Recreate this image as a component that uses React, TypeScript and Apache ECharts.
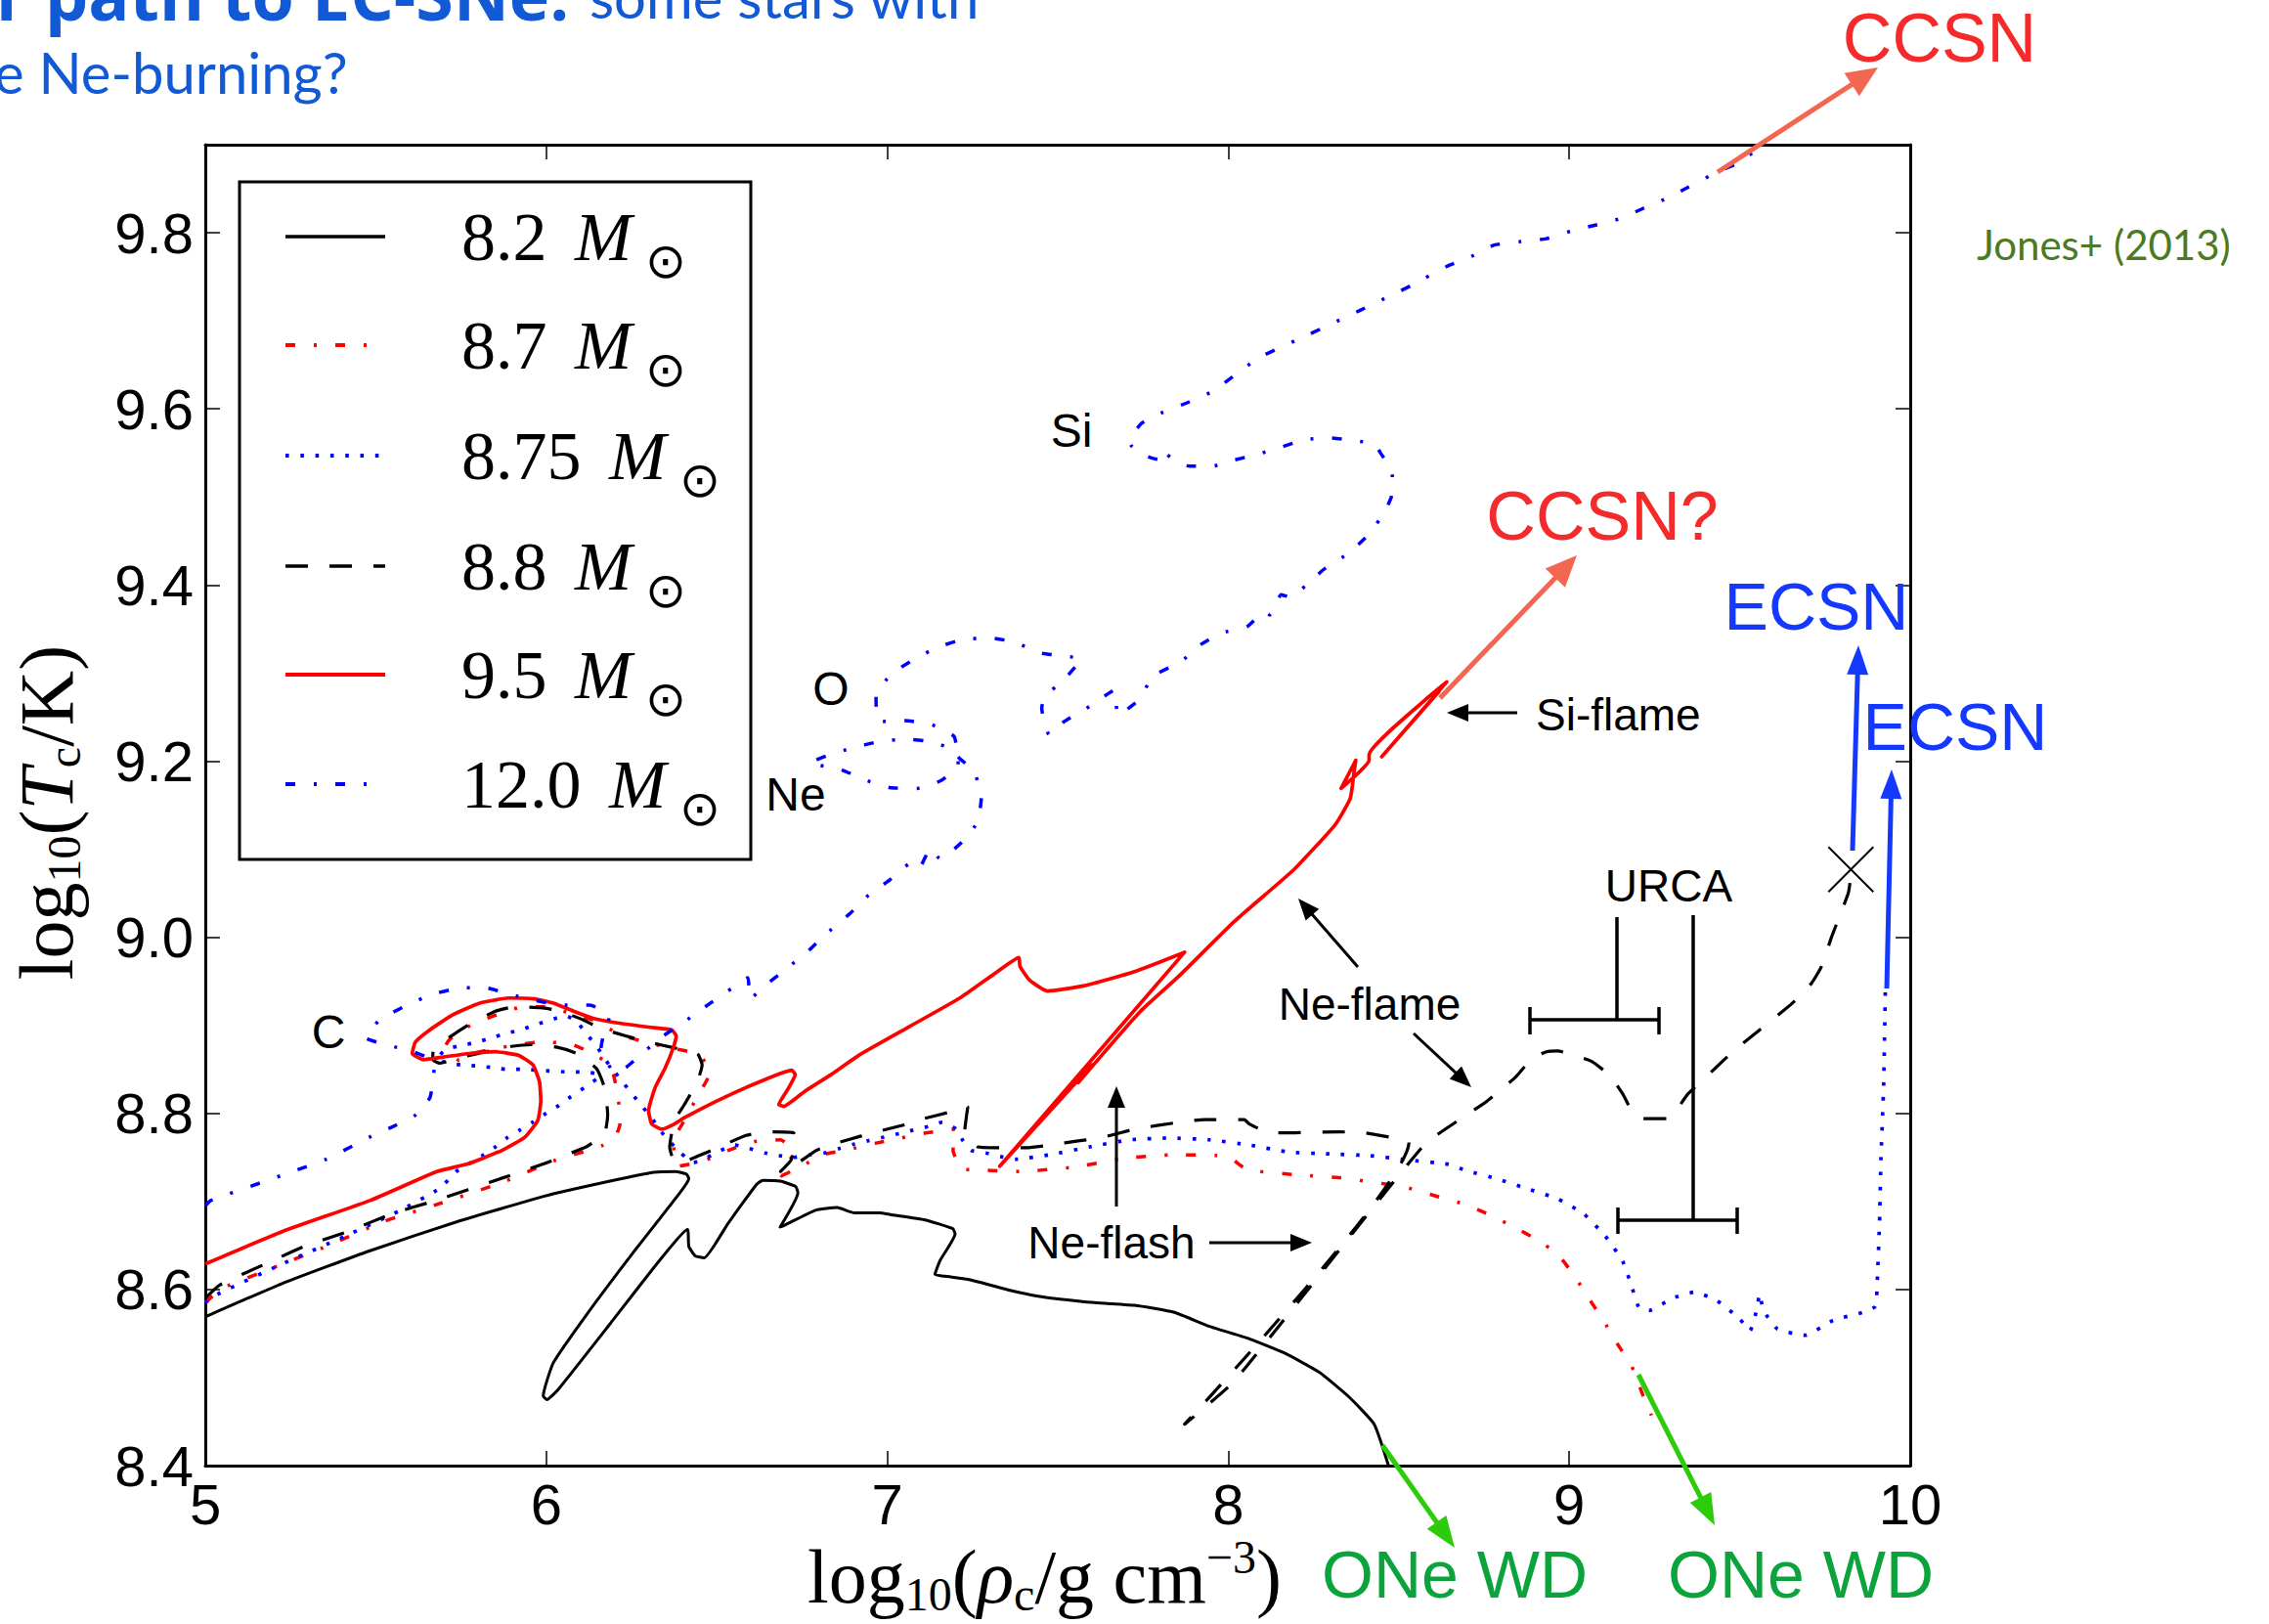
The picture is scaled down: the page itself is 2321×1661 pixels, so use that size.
import React, { useEffect, useRef } from 'react';
import * as echarts from 'echarts';

// ---------- data (log10 rho_c, log10 T_c) ----------
const track82: number[][] = [
  [5.0, 8.569], [5.227, 8.607], [5.483, 8.644], [5.739, 8.677], [5.995, 8.706], [6.187, 8.723], [6.315, 8.733], [6.379, 8.734],
  [6.411, 8.731], [6.418, 8.726], [6.392, 8.71], [6.251, 8.64], [6.123, 8.574], [6.021, 8.517], [5.991, 8.479], [6.002, 8.475],
  [6.034, 8.486], [6.187, 8.561], [6.328, 8.631], [6.414, 8.668], [6.418, 8.649], [6.437, 8.638], [6.463, 8.636], [6.533, 8.675],
  [6.616, 8.719], [6.635, 8.724], [6.686, 8.723], [6.731, 8.717], [6.738, 8.71], [6.686, 8.671], [6.699, 8.673], [6.789, 8.69],
  [6.853, 8.693], [6.904, 8.687], [6.978, 8.687], [7.009, 8.685], [7.111, 8.679], [7.192, 8.669], [7.199, 8.663], [7.155, 8.633],
  [7.14, 8.617], [7.17, 8.615], [7.243, 8.611], [7.36, 8.599], [7.447, 8.592], [7.579, 8.586], [7.725, 8.582], [7.842, 8.574],
  [7.945, 8.558], [8.062, 8.544], [8.164, 8.528], [8.267, 8.506], [8.354, 8.478], [8.428, 8.447], [8.47, 8.4]
];

const track87: number[][] = [
  [5.0, 8.585], [5.048, 8.601], [5.227, 8.629], [5.355, 8.649], [5.522, 8.677], [5.675, 8.696], [5.867, 8.721], [6.021, 8.746],
  [6.162, 8.763], [6.204, 8.775], [6.216, 8.788], [6.212, 8.814], [6.197, 8.844], [6.176, 8.858], [6.137, 8.868], [6.07, 8.879],
  [5.984, 8.881], [5.917, 8.878], [5.841, 8.873], [5.774, 8.867], [5.745, 8.86], [5.705, 8.877], [5.717, 8.884], [5.774, 8.899],
  [5.841, 8.91], [5.918, 8.92], [5.994, 8.921], [6.07, 8.914], [6.137, 8.906], [6.219, 8.889], [6.29, 8.881], [6.367, 8.874],
  [6.448, 8.867], [6.481, 8.847], [6.443, 8.819], [6.405, 8.792], [6.372, 8.768], [6.386, 8.74], [6.462, 8.746], [6.534, 8.758],
  [6.61, 8.768], [6.687, 8.77], [6.725, 8.757], [6.69, 8.729], [6.744, 8.739], [6.811, 8.753], [6.888, 8.759], [6.964, 8.766],
  [7.04, 8.772], [7.117, 8.778], [7.198, 8.782], [7.193, 8.758], [7.217, 8.737], [7.246, 8.736], [7.308, 8.735], [7.389, 8.734],
  [7.55, 8.739], [7.696, 8.749], [7.842, 8.753], [7.967, 8.752], [8.011, 8.748], [8.047, 8.738], [8.091, 8.734], [8.208, 8.73],
  [8.325, 8.727], [8.457, 8.72], [8.53, 8.715], [8.618, 8.705], [8.691, 8.697], [8.771, 8.684], [8.837, 8.671], [8.904, 8.657],
  [8.966, 8.64], [9.014, 8.616], [9.057, 8.59], [9.1, 8.565], [9.14, 8.539], [9.183, 8.513], [9.215, 8.481], [9.241, 8.457]
];

const track875: number[][] = [
  [5.0, 8.585], [5.022, 8.592], [5.214, 8.627], [5.407, 8.66], [5.573, 8.69], [5.688, 8.715], [5.736, 8.734], [5.774, 8.743],
  [5.817, 8.753], [5.851, 8.762], [5.884, 8.772], [5.922, 8.781], [5.96, 8.79], [5.999, 8.8], [6.037, 8.809], [6.072, 8.819],
  [6.111, 8.829], [6.147, 8.839], [6.156, 8.844], [6.109, 8.847], [6.066, 8.847], [6.018, 8.848], [5.975, 8.849], [5.927, 8.85],
  [5.884, 8.85], [5.841, 8.852], [5.793, 8.854], [5.75, 8.855], [5.712, 8.857], [5.679, 8.862], [5.707, 8.873], [5.75, 8.877],
  [5.798, 8.881], [5.841, 8.886], [5.884, 8.891], [5.927, 8.895], [5.97, 8.901], [6.013, 8.906], [6.056, 8.911], [6.09, 8.904],
  [6.118, 8.89], [6.147, 8.877], [6.171, 8.862], [6.223, 8.836], [6.252, 8.822], [6.281, 8.808], [6.309, 8.795], [6.333, 8.781],
  [6.362, 8.768], [6.395, 8.755], [6.432, 8.744], [6.472, 8.75], [6.512, 8.758], [6.553, 8.764], [6.596, 8.76], [6.642, 8.755],
  [6.682, 8.752], [6.727, 8.75], [6.773, 8.753], [6.816, 8.755], [6.859, 8.76], [6.902, 8.765], [6.945, 8.769], [6.99, 8.773],
  [7.034, 8.777], [7.076, 8.781], [7.12, 8.785], [7.162, 8.79], [7.203, 8.782], [7.222, 8.769], [7.246, 8.758], [7.289, 8.755],
  [7.332, 8.751], [7.378, 8.748], [7.477, 8.753], [7.594, 8.762], [7.711, 8.77], [7.828, 8.772], [7.945, 8.77], [8.062, 8.764],
  [8.179, 8.756], [8.296, 8.754], [8.413, 8.752], [8.53, 8.747], [8.647, 8.742], [8.698, 8.735], [8.794, 8.725], [8.88, 8.714],
  [8.966, 8.703], [9.042, 8.686], [9.105, 8.661], [9.157, 8.632], [9.186, 8.6], [9.205, 8.579], [9.234, 8.576], [9.302, 8.59],
  [9.367, 8.597], [9.431, 8.588], [9.499, 8.567], [9.53, 8.553], [9.551, 8.579], [9.558, 8.595], [9.57, 8.576], [9.611, 8.555],
  [9.692, 8.548], [9.774, 8.565], [9.86, 8.574], [9.898, 8.581], [9.904, 8.616], [9.91, 8.677], [9.914, 8.747], [9.922, 8.831],
  [9.927, 8.939]
];

const track88: number[][] = [
  [5.0, 8.59], [5.042, 8.605], [5.176, 8.629], [5.291, 8.649], [5.419, 8.666], [5.547, 8.686], [5.675, 8.701], [5.867, 8.726],
  [5.995, 8.743], [6.098, 8.759], [6.118, 8.762], [6.171, 8.777], [6.18, 8.799], [6.171, 8.829], [6.147, 8.851], [6.089, 8.868],
  [6.032, 8.875], [5.956, 8.878], [5.898, 8.876], [5.822, 8.87], [5.755, 8.864], [5.688, 8.857], [5.667, 8.861], [5.669, 8.871],
  [5.707, 8.884], [5.774, 8.901], [5.851, 8.916], [5.908, 8.921], [5.984, 8.92], [6.042, 8.916], [6.109, 8.906], [6.156, 8.897],
  [6.233, 8.888], [6.3, 8.881], [6.367, 8.875], [6.443, 8.868], [6.457, 8.855], [6.443, 8.836], [6.405, 8.81], [6.376, 8.792],
  [6.362, 8.762], [6.371, 8.749], [6.391, 8.744], [6.467, 8.755], [6.52, 8.764], [6.586, 8.775], [6.649, 8.779], [6.725, 8.778],
  [6.732, 8.768], [6.718, 8.747], [6.687, 8.734], [6.739, 8.744], [6.792, 8.758], [6.849, 8.766], [6.921, 8.774], [6.978, 8.78],
  [7.05, 8.787], [7.107, 8.794], [7.179, 8.801], [7.236, 8.807], [7.227, 8.779], [7.265, 8.762], [7.337, 8.761], [7.408, 8.761],
  [7.477, 8.764], [7.565, 8.769], [7.623, 8.772], [7.725, 8.782], [7.857, 8.79], [7.93, 8.793], [8.047, 8.793], [8.062, 8.788],
  [8.12, 8.778], [8.194, 8.778], [8.325, 8.779], [8.398, 8.778], [8.472, 8.773], [8.53, 8.767], [7.872, 8.447], [8.018, 8.496],
  [8.574, 8.764], [8.706, 8.8], [8.756, 8.813], [8.842, 8.841], [8.89, 8.862], [8.933, 8.87], [8.966, 8.871], [9.014, 8.866],
  [9.066, 8.859], [9.119, 8.843], [9.157, 8.822], [9.186, 8.801], [9.214, 8.794], [9.248, 8.794], [9.291, 8.794], [9.348, 8.822],
  [9.425, 8.85], [9.482, 8.871], [9.559, 8.895], [9.654, 8.925], [9.711, 8.948], [9.74, 8.967], [9.769, 9.0], [9.797, 9.028],
  [9.819, 9.051], [9.826, 9.07]
];

const track95: number[][] = [
  [5.0, 8.629], [5.227, 8.666], [5.483, 8.701], [5.679, 8.734], [5.774, 8.743], [5.87, 8.758], [5.937, 8.773], [5.975, 8.792],
  [5.984, 8.814], [5.98, 8.836], [5.961, 8.855], [5.918, 8.866], [5.851, 8.87], [5.774, 8.868], [5.698, 8.864], [5.64, 8.861],
  [5.607, 8.868], [5.616, 8.881], [5.659, 8.895], [5.726, 8.912], [5.803, 8.925], [5.889, 8.931], [5.965, 8.93], [6.023, 8.925],
  [6.08, 8.916], [6.137, 8.908], [6.204, 8.903], [6.3, 8.898], [6.367, 8.895], [6.381, 8.888], [6.371, 8.873], [6.348, 8.851],
  [6.319, 8.829], [6.3, 8.803], [6.309, 8.788], [6.338, 8.782], [6.376, 8.788], [6.405, 8.795], [6.5, 8.814], [6.596, 8.831],
  [6.72, 8.849], [6.73, 8.844], [6.711, 8.829], [6.682, 8.81], [6.696, 8.808], [6.758, 8.825], [6.835, 8.844], [6.921, 8.867],
  [7.067, 8.899], [7.213, 8.931], [7.316, 8.959], [7.386, 8.977], [7.389, 8.967], [7.418, 8.951], [7.469, 8.939], [7.579, 8.945],
  [7.725, 8.961], [7.872, 8.983], [7.33, 8.74], [7.6, 8.855], [7.56, 8.835], [7.74, 8.915], [7.853, 8.955], [8.018, 9.018],
  [8.193, 9.077], [8.314, 9.128], [8.358, 9.158], [8.369, 9.188], [8.374, 9.201], [8.331, 9.169], [8.413, 9.201], [8.413, 9.207],
  [8.588, 9.273], [8.641, 9.29], [8.45, 9.205], [8.62, 9.28]
];

const track120: number[][] = [
  [5.0, 8.695], [5.016, 8.701], [5.227, 8.73], [5.355, 8.748], [5.487, 8.774], [5.545, 8.784], [5.616, 8.798], [5.659, 8.818],
  [5.671, 8.851], [5.659, 8.862], [5.602, 8.871], [5.54, 8.877], [5.471, 8.886], [5.511, 8.906], [5.592, 8.923], [5.664, 8.935],
  [5.741, 8.942], [5.817, 8.943], [5.894, 8.935], [5.97, 8.928], [6.047, 8.923], [6.128, 8.923], [6.185, 8.91], [6.166, 8.886],
  [6.161, 8.875], [6.199, 8.847], [6.233, 8.852], [6.281, 8.868], [6.34, 8.887], [6.405, 8.904], [6.462, 8.92], [6.533, 8.939],
  [6.591, 8.954], [6.597, 8.93], [6.648, 8.947], [6.7, 8.963], [6.77, 8.985], [6.815, 9.002], [6.891, 9.027], [6.94, 9.046],
  [7.007, 9.065], [7.069, 9.084], [7.093, 9.078], [7.126, 9.101], [7.155, 9.089], [7.219, 9.108], [7.265, 9.131], [7.276, 9.159],
  [7.254, 9.189], [7.212, 9.203], [7.193, 9.213], [7.129, 9.222], [7.05, 9.225], [6.974, 9.222], [6.897, 9.215], [6.822, 9.206],
  [6.773, 9.198], [6.861, 9.191], [6.932, 9.179], [7.007, 9.17], [7.088, 9.169], [7.158, 9.178], [7.208, 9.196], [7.196, 9.228],
  [7.126, 9.242], [7.05, 9.246], [6.98, 9.245], [6.969, 9.251], [6.967, 9.273], [7.009, 9.298], [7.076, 9.315], [7.146, 9.329],
  [7.219, 9.338], [7.298, 9.34], [7.375, 9.335], [7.447, 9.323], [7.524, 9.319], [7.568, 9.316], [7.519, 9.293], [7.461, 9.273],
  [7.453, 9.26], [7.475, 9.23], [7.519, 9.245], [7.601, 9.264], [7.667, 9.281], [7.676, 9.252], [7.742, 9.271], [7.777, 9.296],
  [7.862, 9.313], [7.914, 9.331], [7.976, 9.345], [8.056, 9.353], [8.106, 9.37], [8.122, 9.366], [8.155, 9.389], [8.182, 9.386],
  [8.243, 9.405], [8.281, 9.418], [8.356, 9.437], [8.413, 9.458], [8.457, 9.482], [8.479, 9.501], [8.481, 9.525], [8.473, 9.535],
  [8.448, 9.549], [8.429, 9.56], [8.369, 9.564], [8.298, 9.567], [8.224, 9.565], [8.15, 9.556], [8.082, 9.548], [8.018, 9.542],
  [7.954, 9.535], [7.886, 9.535], [7.837, 9.543], [7.818, 9.549], [7.82, 9.541], [7.777, 9.544], [7.744, 9.549], [7.716, 9.558],
  [7.711, 9.563], [7.744, 9.583], [7.807, 9.596], [7.886, 9.608], [7.954, 9.62], [8.09, 9.658], [8.239, 9.685], [8.387, 9.712],
  [8.536, 9.74], [8.642, 9.762], [8.713, 9.773], [8.78, 9.786], [8.88, 9.791], [8.93, 9.793], [9.006, 9.802], [9.08, 9.809],
  [9.149, 9.816], [9.213, 9.827], [9.291, 9.84], [9.35, 9.852], [9.434, 9.869], [9.5, 9.88], [9.561, 9.898]
];

const xMarker: number[] = [9.826, 9.077];

const legendNumbers = ['8.2', '8.7', '8.75', '8.8', '9.5', '12.0'];
const xTickMin = 5, xTickMax = 10, xTickStep = 1;
const yTickMin = 8.4, yTickMax = 9.9, yTickStep = 0.2;

// ---------- styles ----------
const RED = '#ff0000';
const BLUE = '#0000ff';
const BLACK = '#000000';
const DASHDOT = [10, 19, 3, 19];
const DOTTED = [3.6, 11.7];
const DASHED = [23, 22];

const trackStyles = [
  { data: track82, color: BLACK, width: 3, dash: 'solid' as any },
  { data: track87, color: RED, width: 3.5, dash: DASHDOT },
  { data: track875, color: BLUE, width: 3.7, dash: DOTTED },
  { data: track88, color: BLACK, width: 3.2, dash: DASHED },
  { data: track95, color: RED, width: 3.7, dash: 'solid' as any },
  { data: track120, color: BLUE, width: 3.5, dash: DASHDOT },
];

function arrowEls(x1: number, y1: number, x2: number, y2: number, color: string, lw: number, hl: number, hw: number) {
  const dx = x2 - x1, dy = y2 - y1;
  const L = Math.hypot(dx, dy);
  const ux = dx / L, uy = dy / L;
  const bx = x2 - ux * hl, by = y2 - uy * hl;
  const px = -uy, py = ux;
  return [
    { type: 'line', z: 60, shape: { x1, y1, x2: bx + ux * 2, y2: by + uy * 2 }, style: { stroke: color, lineWidth: lw } },
    {
      type: 'polygon', z: 60,
      shape: { points: [[x2, y2], [bx + (px * hw) / 2, by + (py * hw) / 2], [bx - (px * hw) / 2, by - (py * hw) / 2]] },
      style: { fill: color },
    },
  ];
}

function txt(text: string, x: number, y: number, size: number, color: string, extra: any = {}) {
  return {
    type: 'text', x, y, z: 60,
    style: { text, fontSize: size, fontFamily: 'Liberation Sans', fill: color, align: 'center', verticalAlign: 'middle', ...extra },
  };
}

function seg(x1: number, y1: number, x2: number, y2: number, lw = 3.5) {
  return { type: 'line', z: 60, shape: { x1, y1, x2, y2 }, style: { stroke: BLACK, lineWidth: lw } };
}

const mathRich = {
  r: { fontFamily: 'Liberation Serif', fontSize: 78, lineHeight: 90, verticalAlign: 'middle', fill: '#000' },
  i: { fontFamily: 'Liberation Serif', fontStyle: 'italic', fontSize: 78, lineHeight: 90, verticalAlign: 'middle', fill: '#000' },
  sub: { fontFamily: 'Liberation Serif', fontSize: 48, height: 54, lineHeight: 54, verticalAlign: 'bottom', fill: '#000' },
  sup: { fontFamily: 'Liberation Serif', fontSize: 48, height: 50, lineHeight: 50, verticalAlign: 'top', fill: '#000' },
};

export default function App() {
  const ref = useRef<HTMLDivElement>(null);

  useEffect(() => {
    if (!ref.current) return;
    const chart = echarts.init(ref.current, null, { renderer: 'svg' });

    const axisCommon = {
      type: 'value',
      axisLine: { show: true, onZero: false, lineStyle: { color: '#000', width: 3 } },
      axisTick: { show: true, inside: true, length: 15, lineStyle: { color: '#000', width: 1.5 } },
      splitLine: { show: false },
    };

    const option: any = {
      animation: false,
      backgroundColor: '#ffffff',
      grid: { left: 210, top: 148, width: 1744, height: 1351, containLabel: false },
      xAxis: [
        {
          ...axisCommon, position: 'bottom', min: xTickMin, max: xTickMax, interval: xTickStep,
          axisLabel: { show: true, fontSize: 58, fontFamily: 'Liberation Sans', color: '#000', margin: 10 },
        },
        {
          ...axisCommon, position: 'top', min: xTickMin, max: xTickMax, interval: xTickStep,
          axisLabel: { show: false },
        },
      ],
      yAxis: [
        {
          ...axisCommon, position: 'left', min: yTickMin, max: yTickMax, interval: yTickStep,
          axisLabel: {
            show: true, fontSize: 58, fontFamily: 'Liberation Sans', color: '#000', margin: 12, showMaxLabel: false,
            formatter: (v: number) => v.toFixed(1),
          },
        },
        {
          ...axisCommon, position: 'right', min: yTickMin, max: yTickMax, interval: yTickStep,
          axisLabel: { show: false },
        },
      ],
      series: trackStyles.map((t, i) => ({
        type: 'line',
        name: legendNumbers[i],
        xAxisIndex: 0,
        yAxisIndex: 0,
        data: t.data,
        symbol: 'none',
        showSymbol: false,
        smooth: 0.15,
        silent: true,
        clip: true,
        lineStyle: { color: t.color, width: t.width, type: t.dash, cap: 'butt', join: 'round' },
        z: 2 + i,
      })),
    };
    chart.setOption(option);

    const els: any[] = [];

    // legend
    els.push({ type: 'rect', z: 50, shape: { x: 245, y: 186, width: 523, height: 693 }, style: { fill: '#fff', stroke: '#000', lineWidth: 3 } });
    const rowY = [242, 353, 466, 579, 690, 802];
    const mX = [588, 588, 623, 588, 588, 623];
    trackStyles.forEach((t, i) => {
      const y = rowY[i];
      els.push({
        type: 'line', z: 51, shape: { x1: 292, y1: y, x2: 394, y2: y },
        style: { stroke: t.color, lineWidth: t.width + 0.3, lineDash: Array.isArray(t.dash) ? t.dash : null, lineCap: 'butt' },
      });
      els.push({ type: 'text', z: 51, x: 472, y, style: { text: legendNumbers[i], fontSize: 70, fontFamily: 'Liberation Serif', fill: '#000', align: 'left', verticalAlign: 'middle' } });
      els.push({ type: 'text', z: 51, x: mX[i], y, style: { text: 'M', fontSize: 70, fontStyle: 'italic', fontFamily: 'Liberation Serif', fill: '#000', align: 'left', verticalAlign: 'middle' } });
      els.push({ type: 'text', z: 51, x: mX[i] + 93, y: y + 25, style: { text: '⊙', fontSize: 50, fontFamily: 'DejaVu Sans', fill: '#000', align: 'center', verticalAlign: 'middle' } });
    });

    // axis titles
    els.push({
      type: 'text', z: 60, x: 826, y: 1567,
      style: { text: '{r|log}{sub|10}{r|(}{i|ρ}{sub|c}{r|/g cm}{sup|−3}{r|)}', rich: mathRich, align: 'left', verticalAlign: 'top' },
    });
    els.push({
      type: 'text', z: 60, x: 47, y: 831, rotation: Math.PI / 2,
      style: { text: '{r|log}{sub|10}{r|(}{i|T}{sub|c}{r|/K)}', rich: mathRich, align: 'center', verticalAlign: 'middle' },
    });

    // burning-stage labels
    els.push(txt('C', 336, 1055, 48, BLACK));
    els.push(txt('O', 850, 704, 48, BLACK));
    els.push(txt('Ne', 814, 812, 48, BLACK));
    els.push(txt('Si', 1096, 440, 48, BLACK));
    els.push(txt('Si-flame', 1571, 731, 46, BLACK, { align: 'left' }));
    els.push(txt('Ne-flame', 1401, 1027, 46, BLACK));
    els.push(txt('Ne-flash', 1137, 1271, 46, BLACK));
    els.push(txt('URCA', 1707, 906, 46, BLACK));

    // black arrows
    els.push(...arrowEls(1552, 729, 1480, 729, BLACK, 3, 22, 18));
    els.push(...arrowEls(1389, 989, 1328, 919, BLACK, 3, 22, 18));
    els.push(...arrowEls(1446, 1057, 1505, 1112, BLACK, 3, 22, 18));
    els.push(...arrowEls(1237, 1271, 1342, 1271, BLACK, 3, 22, 18));
    els.push(...arrowEls(1142, 1234, 1142, 1111, BLACK, 3, 22, 18));

    // URCA brackets
    els.push(seg(1654, 938, 1654, 1043), seg(1565, 1043, 1697, 1043), seg(1565, 1030, 1565, 1058), seg(1697, 1030, 1697, 1058));
    els.push(seg(1732, 936, 1732, 1248), seg(1655, 1248, 1777, 1248), seg(1655, 1235, 1655, 1262), seg(1777, 1235, 1777, 1262));

    // X marker at end of 8.8 track
    const p = chart.convertToPixel({ seriesIndex: 0 }, xMarker) as number[];
    els.push({ type: 'line', z: 60, shape: { x1: p[0] - 23, y1: p[1] - 23, x2: p[0] + 23, y2: p[1] + 23 }, style: { stroke: BLACK, lineWidth: 2 } });
    els.push({ type: 'line', z: 60, shape: { x1: p[0] - 23, y1: p[1] + 23, x2: p[0] + 23, y2: p[1] - 23 }, style: { stroke: BLACK, lineWidth: 2 } });

    // fates
    const SALMON = '#f36752';
    const ECBLUE = '#1438ff';
    const GARROW = '#2ccc0a';
    els.push(...arrowEls(1757, 176, 1921, 69, SALMON, 5, 32, 28));
    els.push(...arrowEls(1473, 714, 1613, 568, SALMON, 5, 32, 28));
    els.push(...arrowEls(1895, 870, 1901, 660, ECBLUE, 5, 30, 22));
    els.push(...arrowEls(1930, 1011, 1935, 787, ECBLUE, 5, 30, 22));
    els.push(...arrowEls(1414, 1478, 1488, 1583, GARROW, 5, 32, 24));
    els.push(...arrowEls(1676, 1406, 1754, 1560, GARROW, 5, 32, 24));

    els.push(txt('CCSN', 1984, 39, 70, '#f52a2a'));
    els.push(txt('CCSN?', 1639, 528, 70, '#f52a2a'));
    els.push(txt('ECSN', 1858, 620, 68, ECBLUE));
    els.push(txt('ECSN', 2000, 743, 68, ECBLUE));
    els.push(txt('ONe WD', 1488, 1610, 68, '#0ba43c'));
    els.push(txt('ONe WD', 1842, 1610, 68, '#0ba43c'));
    els.push(txt('Jones+ (2013)', 2152, 250, 42, '#4b7a25', { fontFamily: 'Lato' }));

    // slide title fragments
    const TBLUE = '#1259d6';
    els.push(txt('r path to EC-SNe:', -4, -6, 70, TBLUE, { align: 'left', fontFamily: 'Open Sans', fontWeight: 'bold' }));
    els.push(txt('some stars with', 603, -4, 58, TBLUE, { align: 'left', fontFamily: 'Lato' }));
    els.push(txt('e Ne-burning?', -6, 73, 58, TBLUE, { align: 'left', fontFamily: 'Lato' }));

    chart.setOption({ graphic: els });

    return () => {
      chart.dispose();
    };
  }, []);

  return (
    <div
      ref={ref}
      style={{ position: 'fixed', left: 0, top: 0, width: 2321, height: 1661, background: '#ffffff' }}
    />
  );
}
